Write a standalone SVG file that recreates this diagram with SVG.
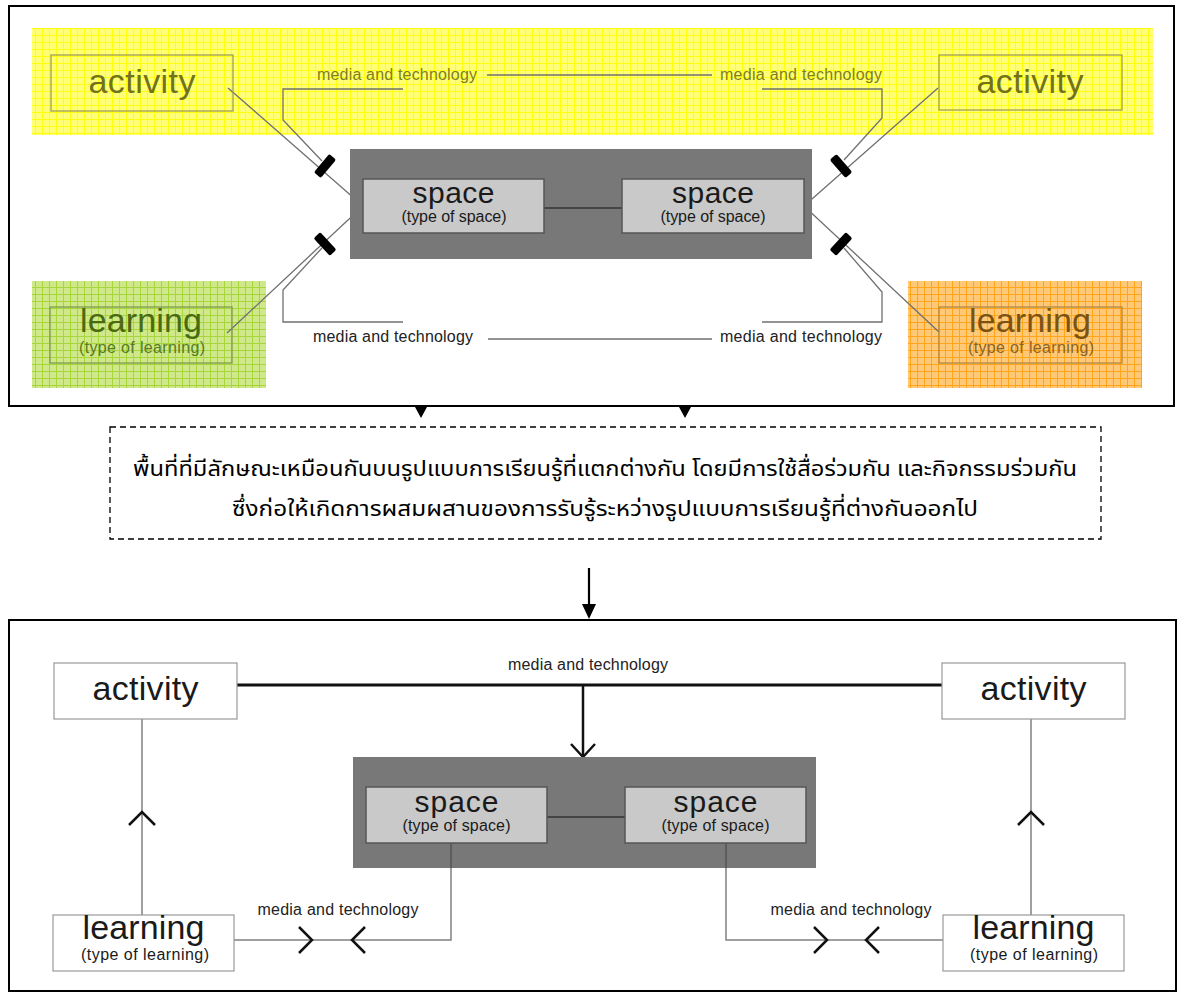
<svg xmlns="http://www.w3.org/2000/svg" width="1178" height="1002" viewBox="0 0 1178 1002">
<defs>
<pattern id="gridY" width="7" height="7" patternUnits="userSpaceOnUse">
<rect width="7" height="7" fill="#ffff78"/>
<path d="M0 0.5H7M0.5 0V7" stroke="#ffff10" stroke-width="1"/>
</pattern>
<pattern id="gridG" width="7" height="7" patternUnits="userSpaceOnUse">
<rect width="7" height="7" fill="#cfe88a"/>
<path d="M0 0.5H7M0.5 0V7" stroke="#a8d43c" stroke-width="1"/>
</pattern>
<pattern id="gridO" width="7" height="7" patternUnits="userSpaceOnUse">
<rect width="7" height="7" fill="#ffc978"/>
<path d="M0 0.5H7M0.5 0V7" stroke="#ffa51c" stroke-width="1"/>
</pattern>
</defs>
<style>
.frame{fill:none;stroke:#000;stroke-width:2}
.t{font-family:"Liberation Sans",Arial,sans-serif;text-anchor:middle}
.big{font-size:34px}
.sub{font-size:16px}
.mt{font-size:16px;fill:#222}
.ln{fill:none;stroke:#707070;stroke-width:1.3}
.lnb{fill:none;stroke:#808080;stroke-width:1.5}
.mk{fill:#000}
.chev{fill:none;stroke:#111;stroke-width:2.5}
.gray{fill:#787878}
.sp{fill:#c9c9c9;stroke:#555;stroke-width:1.5}
.wb{fill:#fff;stroke:#999;stroke-width:1.2}
.dk{fill:#1a1a1a}
.thai{font-family:"Noto Sans Thai","Noto Sans","DejaVu Sans",sans-serif;font-size:22px;fill:#000;text-anchor:middle}
</style>

<!-- top panel -->
<rect class="frame" x="9" y="6" width="1165" height="400"/>
<rect x="32" y="28" width="1121" height="107" fill="url(#gridY)"/>
<rect x="32" y="281" width="234" height="107" fill="url(#gridG)"/>
<rect x="908" y="281" width="234" height="107" fill="url(#gridO)"/>

<g id="connectors-top">
<path class="ln" d="M228 88L363 206M227 333L363 206M938 88L804 206M939 332L804 206"/>
<path class="ln" d="M403 89H283V120L322 161M403 322H283V290L322 248M762 89H882V118L844 160M762 322H882V292L844 248"/>
<path class="ln" d="M487 75H712M488 339H712"/>
<rect class="mk" x="-4.5" y="-12" width="9" height="24" rx="2" transform="translate(325 166) rotate(40)"/>
<rect class="mk" x="-4.5" y="-12" width="9" height="24" rx="2" transform="translate(325 244) rotate(-43)"/>
<rect class="mk" x="-4.5" y="-12" width="9" height="24" rx="2" transform="translate(841 166) rotate(-41)"/>
<rect class="mk" x="-4.5" y="-12" width="9" height="24" rx="2" transform="translate(841 244) rotate(43)"/>
<text class="t mt" x="397" y="80" textLength="160" style="fill:#80801a">media and technology</text>
<text class="t mt" x="801" y="80" textLength="162" style="fill:#80801a">media and technology</text>
<text class="t mt" x="393" y="342" textLength="160">media and technology</text>
<text class="t mt" x="801" y="342" textLength="162">media and technology</text>
</g>

<g id="top-activity-left">
<rect x="51" y="55" width="182" height="56" fill="none" stroke="#a0a050" stroke-width="1.3"/>
<text class="t big" x="142" y="93" textLength="107" fill="#72721a">activity</text>
</g>
<g id="top-activity-right">
<rect x="939" y="55" width="183" height="55" fill="none" stroke="#a0a050" stroke-width="1.3"/>
<text class="t big" x="1030" y="93" textLength="107" fill="#72721a">activity</text>
</g>
<g id="top-learning-left">
<rect x="50" y="307" width="182" height="56" fill="none" stroke="#7f9a50" stroke-width="1.3"/>
<text class="t big" x="141" y="332" textLength="122" fill="#4a6a10">learning</text>
<text class="t sub" x="142" y="353" textLength="126" fill="#5a7a22">(type of learning)</text>
</g>
<g id="top-learning-right">
<rect x="939" y="307" width="183" height="56" fill="none" stroke="#b08848" stroke-width="1.3"/>
<text class="t big" x="1030" y="332" textLength="122" fill="#7a5212">learning</text>
<text class="t sub" x="1031" y="353" textLength="126" fill="#8a6428">(type of learning)</text>
</g>
<g id="top-space">
<rect class="gray" x="350" y="149" width="462" height="110"/>
<line x1="544" y1="208" x2="622" y2="208" stroke="#444" stroke-width="1.8"/>
<rect class="sp" x="363" y="179" width="181" height="54"/>
<text class="t dk" x="453.5" y="203" style="font-size:30px" textLength="82">space</text>
<text class="t sub dk" x="454" y="222" textLength="105">(type of space)</text>
<rect class="sp" x="622" y="179" width="182" height="54"/>
<text class="t dk" x="713" y="203" style="font-size:30px" textLength="82">space</text>
<text class="t sub dk" x="713" y="222" textLength="105">(type of space)</text>
</g>

<!-- arrows out of top panel -->
<g id="connectors-mid">
<path fill="#000" d="M415 407H427L421 418ZM679 407H691L685 418Z"/>
<line x1="589" y1="568" x2="589" y2="606" stroke="#000" stroke-width="2.2"/>
<path fill="#000" d="M582 604H596L589 619Z"/>
</g>

<g id="summary">
<rect x="110" y="427" width="991" height="112" fill="none" stroke="#000" stroke-width="1.3" stroke-dasharray="6 4"/>
<text class="thai" x="605" y="476" textLength="944" lengthAdjust="spacingAndGlyphs">พื้นที่ที่มีลักษณะเหมือนกันบนรูปแบบการเรียนรู้ที่แตกต่างกัน โดยมีการใช้สื่อร่วมกัน และกิจกรรมร่วมกัน</text>
<text class="thai" x="605" y="516" textLength="746" lengthAdjust="spacingAndGlyphs">ซึ่งก่อให้เกิดการผสมผสานของการรับรู้ระหว่างรูปแบบการเรียนรู้ที่ต่างกันออกไป</text>
</g>

<!-- bottom panel -->
<rect class="frame" x="9" y="620" width="1167" height="371"/>
<g id="connectors-bottom">
<line x1="237" y1="685" x2="942" y2="685" stroke="#111" stroke-width="3"/>
<line x1="583" y1="685" x2="583" y2="756" stroke="#111" stroke-width="2.5"/>
<path class="chev" d="M571 744L583 757L595 744"/>
<path class="lnb" d="M142 719V915M1031 719V915"/>
<path class="chev" d="M129 825L142 812L155 825M1018 825L1031 812L1044 825"/>
<path class="lnb" d="M234 940H451V843M943 940H726V843"/>
<path class="chev" d="M299 927L312 940L299 953M365 927L352 940L365 953M814 927L827 940L814 953M879 927L866 940L879 953"/>
<text class="t mt" x="588" y="670" textLength="160">media and technology</text>
<text class="t mt" x="338" y="915" textLength="161">media and technology</text>
<text class="t mt" x="851" y="915" textLength="161">media and technology</text>
</g>
<g id="bottom-activity-left">
<rect class="wb" x="54" y="663" width="183" height="56"/>
<text class="t big dk" x="145.5" y="700" textLength="106">activity</text>
</g>
<g id="bottom-activity-right">
<rect class="wb" x="942" y="663" width="183" height="56"/>
<text class="t big dk" x="1033.5" y="700" textLength="106">activity</text>
</g>
<g id="bottom-space">
<rect class="gray" x="353" y="757" width="463" height="111"/>
<line x1="547" y1="817" x2="625" y2="817" stroke="#444" stroke-width="1.8"/>
<line x1="451" y1="843" x2="451" y2="868" stroke="#555" stroke-width="1.5"/>
<line x1="726" y1="843" x2="726" y2="868" stroke="#555" stroke-width="1.5"/>
<rect class="sp" x="366" y="787" width="181" height="56"/>
<text class="t dk" x="456.5" y="812" style="font-size:30px" textLength="84">space</text>
<text class="t sub dk" x="456.5" y="831" textLength="108">(type of space)</text>
<rect class="sp" x="625" y="787" width="181" height="56"/>
<text class="t dk" x="715.5" y="812" style="font-size:30px" textLength="84">space</text>
<text class="t sub dk" x="715.5" y="831" textLength="108">(type of space)</text>
</g>
<g id="bottom-learning-left">
<rect class="wb" x="53" y="915" width="181" height="56"/>
<text class="t big dk" x="143.5" y="939" textLength="122">learning</text>
<text class="t sub dk" x="145" y="960" textLength="128">(type of learning)</text>
</g>
<g id="bottom-learning-right">
<rect class="wb" x="943" y="915" width="181" height="56"/>
<text class="t big dk" x="1033.5" y="939" textLength="122">learning</text>
<text class="t sub dk" x="1034" y="960" textLength="128">(type of learning)</text>
</g>
</svg>
